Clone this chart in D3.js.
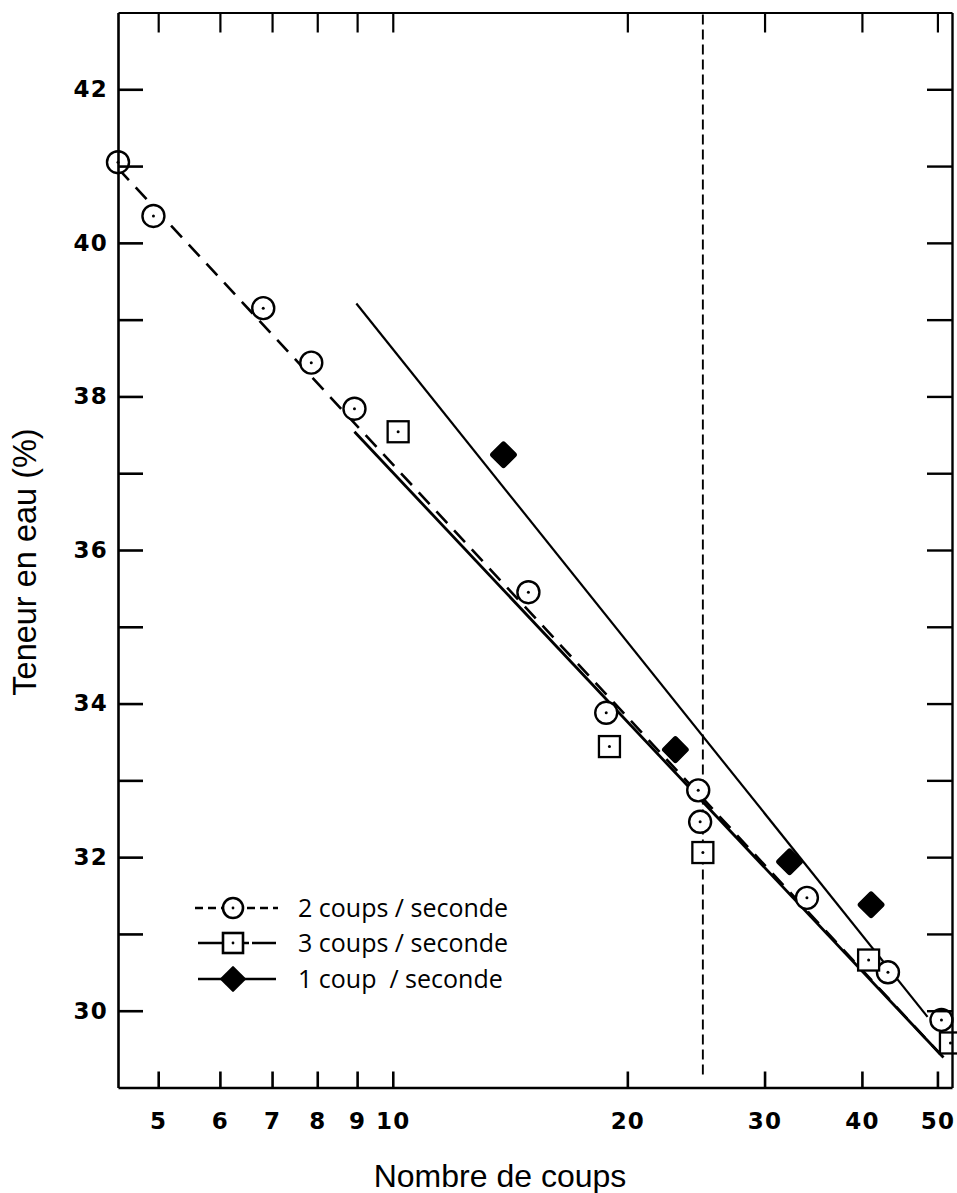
<!DOCTYPE html>
<html><head><meta charset="utf-8">
<script src="https://cdn.jsdelivr.net/npm/d3@7"></script>
<style>
body{margin:0;background:#fff}
svg{display:block}
</style>
</head><body>
<svg id="chart" width="957" height="1193"></svg>
<script>
// ---- data ----
const xTickValues = [5, 6, 7, 8, 9, 10, 20, 30, 40, 50];
const yTickValues = [30, 31, 32, 33, 34, 35, 36, 37, 38, 39, 40, 41, 42];
const yLabelValues = [30, 32, 34, 36, 38, 40, 42];

// 2 coups / seconde (circles)
const coups2X = [4.44, 4.93, 6.82, 7.86, 8.93, 14.93, 18.79, 24.66, 24.8, 34.0, 43.2, 50.6];
const coups2Y = [41.05, 40.35, 39.15, 38.44, 37.84, 35.45, 33.88, 32.87, 32.46, 31.47, 30.50, 29.88];
// 3 coups / seconde (squares)
const coups3X = [10.16, 18.97, 25.0, 40.8, 51.96];
const coups3Y = [37.54, 33.44, 32.06, 30.66, 29.58];
// 1 coup / seconde (diamonds)
const coup1X = [13.87, 23.05, 32.3, 41.1];
const coup1Y = [37.24, 33.40, 31.94, 31.38];

// fitted lines (end points)
const line2X = [4.44, 50.46], line2Y = [40.97, 29.43];
const line3X = [8.93, 50.9],  line3Y = [37.54, 29.39];
const line1X = [8.98, 48.56], line1Y = [39.21, 29.92];

const liquidLimitX = 25;

const legendLabels = ["2 coups / seconde", "3 coups / seconde", "1 coup  / seconde"];

// ---- chart ----
const svg = d3.select("#chart");
const pL = 118, pR = 952, pT = 12.5, pB = 1087.5;
const x = d3.scaleLog().domain([4.44, 52.2]).range([pL, pR]);
const y = d3.scaleLinear().domain([29, 43]).range([pB, pT]);

const zip = (a, b) => a.map((v, i) => [v, b[i]]);
const line = d3.line().x(d => x(d[0])).y(d => y(d[1]));

// vertical dashed line at 25
svg.append("line")
  .attr("x1", x(liquidLimitX)).attr("x2", x(liquidLimitX))
  .attr("y1", pT + 2).attr("y2", pB - 8)
  .attr("stroke", "#000").attr("stroke-width", 1.9)
  .attr("stroke-dasharray", "10,5");

// regression lines
svg.append("path").datum(zip(line1X, line1Y)).attr("d", line)
  .attr("fill", "none").attr("stroke", "#000").attr("stroke-width", 2.2);
svg.append("path").datum(zip(line3X, line3Y)).attr("d", line)
  .attr("fill", "none").attr("stroke", "#000").attr("stroke-width", 2.8);
svg.append("path").datum(zip(line2X, line2Y)).attr("d", line)
  .attr("fill", "none").attr("stroke", "#000").attr("stroke-width", 2.6)
  .attr("stroke-dasharray", "16,10");

// markers
const circ = svg.append("g").selectAll("g").data(zip(coups2X, coups2Y)).join("g")
  .attr("transform", d => `translate(${x(d[0])},${y(d[1])})`);
circ.append("circle").attr("r", 11).attr("fill", "#fff").attr("stroke", "#000").attr("stroke-width", 2.4);
circ.append("circle").attr("r", 1.5).attr("fill", "#000");

const sq = svg.append("g").selectAll("g").data(zip(coups3X, coups3Y)).join("g")
  .attr("transform", d => `translate(${x(d[0])},${y(d[1])})`);
sq.append("rect").attr("x", -10.5).attr("y", -10.5).attr("width", 21).attr("height", 21)
  .attr("fill", "#fff").attr("stroke", "#000").attr("stroke-width", 2.3);
sq.append("circle").attr("r", 1.5).attr("fill", "#000");

svg.append("g").selectAll("rect").data(zip(coup1X, coup1Y)).join("rect")
  .attr("x", -9.5).attr("y", -9.5).attr("width", 19).attr("height", 19).attr("rx", 2)
  .attr("transform", d => `translate(${x(d[0])},${y(d[1])}) rotate(45)`)
  .attr("fill", "#000").attr("stroke", "#000").attr("stroke-width", 1.5);

// axes
function styleAxis(g, w) {
  g.select(".domain").attr("stroke-width", w).attr("stroke", "#000");
  g.selectAll(".tick line").attr("stroke-width", w).attr("stroke", "#000");
  g.selectAll(".tick text").attr("font-family", "DejaVu Sans, sans-serif")
    .attr("font-weight", "bold").attr("font-size", 23).attr("letter-spacing", 1.2)
    .attr("fill", "#000");
}
const gB = svg.append("g").attr("transform", `translate(0,${pB})`)
  .call(d3.axisBottom(x).tickValues(xTickValues).tickSizeInner(-16).tickSizeOuter(0)
    .tickPadding(25).tickFormat(d3.format("d")));
styleAxis(gB, 2.6);
const gT = svg.append("g").attr("transform", `translate(0,${pT})`)
  .call(d3.axisTop(x).tickValues(xTickValues).tickSizeInner(-20).tickSizeOuter(0).tickFormat(""));
styleAxis(gT, 2.2);
const gL = svg.append("g").attr("transform", `translate(${pL},0)`)
  .call(d3.axisLeft(y).tickValues(yTickValues).tickSizeInner(-25).tickSizeOuter(0)
    .tickPadding(10).tickFormat(d => yLabelValues.includes(d) ? d : ""));
styleAxis(gL, 2.6);
const gR = svg.append("g").attr("transform", `translate(${pR},0)`)
  .call(d3.axisRight(y).tickValues(yTickValues).tickSizeInner(-25).tickSizeOuter(0).tickFormat(""));
styleAxis(gR, 2.4);

// axis titles
svg.append("text").attr("transform", "translate(36,562) rotate(-90)")
  .attr("text-anchor", "middle").attr("font-family", "Liberation Sans, Arial, sans-serif")
  .attr("font-size", 32.5).attr("fill", "#000").text("Teneur en eau (%)");
svg.append("text").attr("x", 500).attr("y", 1187)
  .attr("text-anchor", "middle").attr("font-family", "Liberation Sans, Arial, sans-serif")
  .attr("font-size", 32).attr("fill", "#000").text("Nombre de coups");

// legend
const lg = svg.append("g");
const rows = [908, 943, 979];
// row 1: short dashes + circle
lg.append("line").attr("x1", 195).attr("x2", 278).attr("y1", rows[0]).attr("y2", rows[0])
  .attr("stroke", "#000").attr("stroke-width", 2.4).attr("stroke-dasharray", "8,5");
lg.append("circle").attr("cx", 233).attr("cy", rows[0]).attr("r", 10).attr("fill", "#fff")
  .attr("stroke", "#000").attr("stroke-width", 2.6);
lg.append("circle").attr("cx", 233).attr("cy", rows[0]).attr("r", 1.4).attr("fill", "#000");
// row 2: long dashes + square
lg.append("line").attr("x1", 198).attr("x2", 276).attr("y1", rows[1]).attr("y2", rows[1])
  .attr("stroke", "#000").attr("stroke-width", 2.4).attr("stroke-dasharray", "24,3");
lg.append("rect").attr("x", 233 - 10).attr("y", rows[1] - 10).attr("width", 20).attr("height", 20)
  .attr("fill", "#fff").attr("stroke", "#000").attr("stroke-width", 2.6);
lg.append("circle").attr("cx", 233).attr("cy", rows[1]).attr("r", 1.4).attr("fill", "#000");
// row 3: solid + diamond
lg.append("line").attr("x1", 198).attr("x2", 276).attr("y1", rows[2]).attr("y2", rows[2])
  .attr("stroke", "#000").attr("stroke-width", 2.4);
lg.append("rect").attr("x", -9.5).attr("y", -9.5).attr("width", 19).attr("height", 19).attr("rx", 1.5)
  .attr("transform", `translate(233,${rows[2]}) rotate(45)`).attr("fill", "#000");
lg.selectAll("text.lbl").data(legendLabels).join("text").attr("class", "lbl")
  .attr("x", 298).attr("y", (d, i) => rows[i] + 9)
  .attr("font-family", "Open Sans, sans-serif").attr("font-size", 25)
  .attr("fill", "#000").style("white-space", "pre")
  .text(d => d);
</script>
</body></html>
